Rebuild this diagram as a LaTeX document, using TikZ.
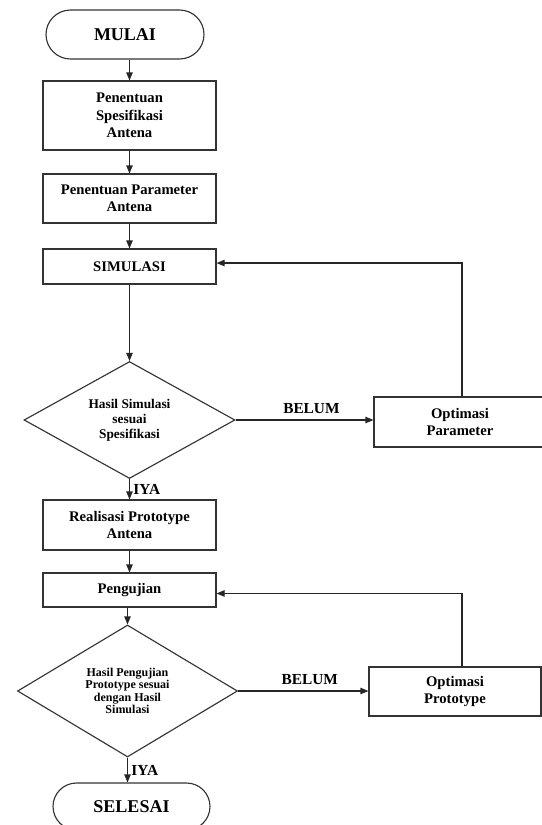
\documentclass[tikz,border=0pt]{standalone}
\usepackage{fontspec}
\setmainfont{Liberation Serif}
\usetikzlibrary{shapes.geometric,shapes.misc,arrows.meta}
\begin{document}
\begin{tikzpicture}[x=0.75pt,y=-0.75pt,
  every node/.style={text=black},
  box/.style={draw=black!80, line width=0.85pt, rectangle, align=center, inner sep=0pt,
    font=\fontsize{11}{13}\selectfont\bfseries},
  term/.style={draw=black!80, line width=0.85pt, rounded rectangle, inner sep=0pt,
    font=\fontsize{13.5}{16}\selectfont\bfseries},
  dec/.style={draw=black!80, line width=0.85pt, diamond, aspect=1.8, inner sep=0pt, align=center},
  arr/.style={draw=black!85, line width=0.85pt, -{Triangle[length=6pt,width=4.8pt]}},
  lbl/.style={inner sep=0pt, font=\fontsize{11.5}{13}\selectfont\bfseries}]
\useasboundingbox (0,0) rectangle (542,825);
\clip (0,0) rectangle (542,825);
\fill[white] (0,0) rectangle (542,825);

\node[term, minimum width=118.5pt, minimum height=36.75pt] (mulai) at (125,34.5) {MULAI};
\node[box, minimum width=129.75pt, minimum height=51.75pt] (spec) at (129.5,115.5) {Penentuan\\Spesifikasi\\Antena};
\node[box, minimum width=129.75pt, minimum height=36.75pt] (param) at (129.5,198.5) {Penentuan Parameter\\Antena};
\node[box, minimum width=129.75pt, minimum height=26.25pt] (sim) at (129.5,266.5) {SIMULASI};
\node[dec, minimum width=158.25pt, minimum height=87.75pt,
  font=\fontsize{10}{11.25}\selectfont\bfseries] (d1) at (129.5,420) {Hasil Simulasi\\sesuai\\Spesifikasi};
\node[box, minimum width=129pt, minimum height=37.5pt] (optp) at (460,422) {Optimasi\\Parameter};
\node[box, minimum width=129.75pt, minimum height=37.5pt] (real) at (129.5,525) {Realisasi Prototype\\Antena};
\node[box, minimum width=129.75pt, minimum height=25.5pt] (peng) at (129.5,590) {Pengujian};
\node[dec, minimum width=165pt, minimum height=99pt,
  font=\fontsize{9}{9.2}\selectfont\bfseries] (d2) at (127.5,691) {Hasil Pengujian\\Prototype sesuai\\dengan Hasil\\Simulasi};
\node[box, minimum width=129pt, minimum height=36.75pt] (optq) at (455,691.5) {Optimasi\\Prototype};
\node[term, minimum width=117.75pt, minimum height=35.25pt] (sel) at (131.5,806.5) {SELESAI};

\draw[arr] (mulai.south -| spec.north) -- (spec.north);
\draw[arr] (spec) -- (param);
\draw[arr] (param) -- (sim);
\draw[arr] (sim.south -| d1.north) -- (d1.north);
\draw[arr] (d1.south) -- node[lbl, right=2.5pt] (iya1) {IYA} (d1.south |- real.north);
\draw[arr] (real) -- (peng);
\draw[arr] (peng.south -| d2.north) -- (d2.north);
\draw[arr] (d2.south) -- node[lbl, right=2.5pt] (iya2) {IYA} (d2.south |- sel.north);
\draw[arr] (d1.east) -- node[lbl, above=4.5pt, pos=0.55] (bel1) {BELUM} (d1.east -| optp.west);
\draw[arr] (d2.east) -- node[lbl, above=4.5pt, pos=0.55] (bel2) {BELUM} (d2.east -| optq.west);
\draw[arr] ([xshift=1.5pt]optp.north) |- ([yshift=2.6pt]sim.east);
\draw[arr] ([xshift=5.25pt]optq.north) |- ([yshift=-2.6pt]peng.east);
\end{tikzpicture}
\end{document}
